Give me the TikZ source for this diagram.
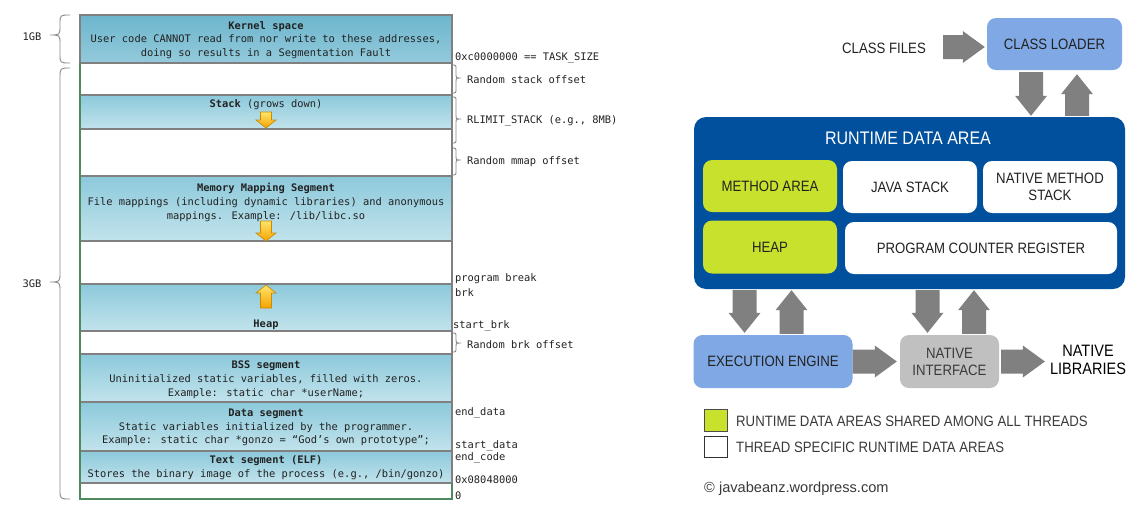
\documentclass[tikz,border=0pt]{standalone}
\usepackage{fontspec}
\newfontfamily\mono{DejaVu Sans Mono}
\newfontfamily\jf[FakeStretch=0.88]{Liberation Sans}
\newfontfamily\jfn{Liberation Sans}
\usetikzlibrary{calc}
\definecolor{segA}{HTML}{8CC9DB}
\definecolor{segB}{HTML}{C2E3EC}
\definecolor{kerA}{HTML}{6DB6CD}
\definecolor{kerB}{HTML}{93CADB}
\definecolor{segline}{HTML}{808080}
\definecolor{usrline}{HTML}{4F8A5E}
\definecolor{bracec}{HTML}{8A8A8A}
\definecolor{yA}{HTML}{FFE46A}
\definecolor{yB}{HTML}{F5A300}
\definecolor{yline}{HTML}{C88A00}
\definecolor{loader}{HTML}{7FA8E4}
\definecolor{rdablue}{HTML}{00509D}
\definecolor{shared}{HTML}{C8E12C}
\definecolor{nigray}{HTML}{C0C0C0}
\definecolor{agray}{HTML}{808080}
\definecolor{ink}{HTML}{222222}
\definecolor{legink}{HTML}{3A3A3A}
\tikzset{
  seg/.style={draw=segline, line width=1.2pt, inner sep=0, outer sep=0, minimum width=372, anchor=north west},
  wseg/.style={seg, fill=white},
  bseg/.style={seg, top color=segA, bottom color=segB},
  kseg/.style={seg, top color=kerA, bottom color=kerB},
  segtext/.style={font=\mono\fontsize{10.4}{13.8}\selectfont, text=ink, align=center, inner sep=0, yshift=-1.5pt},
  rlabel/.style={font=\mono\fontsize{10.4}{12}\selectfont, text=ink, anchor=west, inner sep=0, yshift=-1.5pt},
  bracestyle/.style={draw=bracec, line width=0.9pt},
  yarr/.style={top color=yA, bottom color=yB, draw=yline, line width=0.6pt},
  jbox/.style={rounded corners=9, inner sep=0, align=center, text=ink, font=\jf\fontsize{15}{17}\selectfont},
  jtext/.style={inner sep=0, align=center, text=ink, font=\jf\fontsize{15}{17}\selectfont},
  legtext/.style={inner sep=0, anchor=west, text=legink, font=\jf\fontsize{15}{17}\selectfont},
}
\newcommand\vbr[7]{\draw[bracestyle] (#1,#4) .. controls (#2,#4) .. (#2,{#4+#7}) -- (#2,{#5-#7}) .. controls (#2,#5) .. (#3,#5) .. controls (#2,#5) .. (#2,{#5+#7}) -- (#2,{#6-#7}) .. controls (#2,#6) .. (#1,#6);}
\newcommand\ydown[3]{\shadedraw[yarr] ({#1-5.5},#2) -- ({#1+5.5},#2) -- ({#1+5.5},{#3-8}) -- ({#1+10},{#3-8}) -- (#1,#3) -- ({#1-10},{#3-8}) -- ({#1-5.5},{#3-8}) -- cycle;}
\newcommand\yup[3]{\shadedraw[yarr] ({#1-5.5},#2) -- ({#1+5.5},#2) -- ({#1+5.5},{#3+8}) -- ({#1+10},{#3+8}) -- (#1,#3) -- ({#1-10},{#3+8}) -- ({#1-5.5},{#3+8}) -- cycle;}
\newcommand\arrR[2]{\fill[agray] let \p1=#1, \p2=#2 in (\x1,\y1+12pt) -- (\x2-22pt,\y1+12pt) -- (\x2-22pt,\y1+16pt) -- (\x2,\y1) -- (\x2-22pt,\y1-16pt) -- (\x2-22pt,\y1-12pt) -- (\x1,\y1-12pt) -- cycle;}
\newcommand\arrD[2]{\fill[agray] let \p1=#1, \p2=#2 in (\x1-12pt,\y1) -- (\x1+12pt,\y1) -- (\x1+12pt,\y2+20pt) -- (\x1+16pt,\y2+20pt) -- (\x1,\y2) -- (\x1-16pt,\y2+20pt) -- (\x1-12pt,\y2+20pt) -- cycle;}
\newcommand\arrU[2]{\fill[agray] let \p1=#1, \p2=#2 in (\x1-12pt,\y1) -- (\x1+12pt,\y1) -- (\x1+12pt,\y2-20pt) -- (\x1+16pt,\y2-20pt) -- (\x1,\y2) -- (\x1-16pt,\y2-20pt) -- (\x1-12pt,\y2-20pt) -- cycle;}
\begin{document}
\begin{tikzpicture}[x=1pt,y=-1pt]
\useasboundingbox (0,0) rectangle (1133,520);
\fill[white] (0,0) rectangle (1133,520);
% ---------------- left: memory layout ----------------
\node[kseg, minimum height=48] (kernel) at (80,15) {};
\node[wseg, minimum height=32] (gap1) at (80,63) {};
\node[bseg, minimum height=34] (stack) at (80,95) {};
\node[wseg, minimum height=47] (gap2) at (80,129) {};
\node[bseg, minimum height=65] (mmap) at (80,176) {};
\node[wseg, minimum height=43] (gap3) at (80,241) {};
\node[bseg, minimum height=47] (heapseg) at (80,284) {};
\node[wseg, minimum height=23] (gap4) at (80,331) {};
\node[bseg, minimum height=48] (bss) at (80,354) {};
\node[bseg, minimum height=49] (dataseg) at (80,402) {};
\node[bseg, minimum height=32] (textseg) at (80,451) {};
\node[wseg, minimum height=16] (gap5) at (80,483) {};
\draw[usrline, line width=1.2pt] (gap1.north west) -- (gap5.south west) -- (gap5.south east) -- (gap5.north east);

\node[segtext] (kt) at (266,38.5) {\textbf{Kernel space}\\User code CANNOT read from nor write to these addresses,\\doing so results in a Segmentation Fault};
\node[segtext] (st) at (266,103) {\textbf{Stack} (grows down)};
\node[segtext] (mt) at (266,201) {\textbf{Memory Mapping Segment}\\File mappings (including dynamic libraries) and anonymous\\mappings. Example: /lib/libc.so};
\node[segtext] (ht) at (266,323) {\textbf{Heap}};
\node[segtext] (bt) at (266,378) {\textbf{BSS segment}\\Uninitialized static variables, filled with zeros.\\Example: static char *userName;};
\node[segtext] (dt) at (266,426) {\textbf{Data segment}\\Static variables initialized by the programmer.\\Example: static char *gonzo = “God’s own prototype”;};
\node[segtext] (tt) at (266,466.5) {\textbf{Text segment (ELF)}\\Stores the binary image of the process (e.g., /bin/gonzo)};

\ydown{266}{112}{128}
\ydown{266}{221}{241}
\yup{266}{308}{285}

\vbr{70}{60}{50}{15}{35}{63}{9}
\vbr{70}{60}{50}{68}{282}{499}{10}
\node[segtext] (g1) at (32,35) {1GB};
\node[segtext] (g3) at (32,282) {3GB};

\vbr{452}{456}{461}{65}{78}{93}{4}
\vbr{452}{456}{461}{97}{119}{143}{4}
\vbr{452}{456}{461}{148}{160}{175}{4}
\vbr{452}{456}{461}{333}{343}{352}{4}

\node[rlabel] (l1) at (455,56) {0xc0000000 == TASK\_SIZE};
\node[rlabel] (l2) at (467,78) {Random stack offset};
\node[rlabel] (l3) at (467,119) {RLIMIT\_STACK (e.g., 8MB)};
\node[rlabel] (l4) at (467,160) {Random mmap offset};
\node[rlabel] (l5) at (455,277) {program break};
\node[rlabel] (l6) at (455,291) {brk};
\node[rlabel] (l7) at (453,324) {start\_brk};
\node[rlabel] (l8) at (467,343) {Random brk offset};
\node[rlabel] (l9) at (455,411) {end\_data};
\node[rlabel] (l10) at (455,444) {start\_data};
\node[rlabel] (l11) at (455,456) {end\_code};
\node[rlabel] (l12) at (455,478) {0x08048000};
\node[rlabel] (l13) at (455,494) {0};

% ---------------- right: JVM ----------------
\node[jbox, fill=loader, minimum width=135, minimum height=52] (cl) at (1054.5,44) {CLASS LOADER};
\node[jtext] (cf) at (884,48) {CLASS FILES};
\node[jbox, fill=rdablue, minimum width=431, minimum height=172, rounded corners=12] (rda) at (909.5,203) {};
\node[inner sep=0, text=white, font=\jf\fontsize{18.2}{20}\selectfont] (rdat) at (908,138) {RUNTIME DATA AREA};
\node[jbox, fill=shared, minimum width=134, minimum height=52] (ma) at (770,186) {METHOD AREA};
\node[jbox, fill=white, minimum width=134, minimum height=52] (js) at (910,187) {JAVA STACK};
\node[jbox, fill=white, minimum width=134, minimum height=52] (nms) at (1050,187) {NATIVE METHOD\\STACK};
\node[jbox, fill=shared, minimum width=134, minimum height=53] (hp) at (770,247) {HEAP};
\node[jbox, fill=white, minimum width=272, minimum height=52] (pcr) at (981,248) {PROGRAM COUNTER REGISTER};
\node[jbox, fill=loader, minimum width=159, minimum height=53] (ee) at (773,361.5) {EXECUTION ENGINE};
\node[jbox, fill=nigray, minimum width=99, minimum height=53, text=legink] (ni) at (949.5,361.5) {NATIVE\\INTERFACE};
\node[inner sep=0, align=center, text=black, font=\jf\fontsize{16.5}{17.5}\selectfont] (nl) at (1088,360) {NATIVE\\LIBRARIES};

\arrR{($(cf.east)+(17,-1)$)}{($(cl.west |- cf.east)+(-2,-1)$)}
\arrD{($(cl.south)+(-23.5,2)$)}{($(cl.south |- rda.north)+(-23.5,-1)$)}
\arrU{($(cl.south |- rda.north)+(22.5,-1)$)}{($(cl.south)+(22.5,4)$)}
\arrD{($(ee.north |- rda.south)+(-28.5,1)$)}{($(ee.north)+(-28.5,-2)$)}
\arrU{($(ee.north)+(18.5,-1)$)}{($(ee.north |- rda.south)+(18.5,1)$)}
\arrD{($(ni.north |- rda.south)+(-22,1)$)}{($(ni.north)+(-22,-2)$)}
\arrU{($(ni.north)+(24.5,-1)$)}{($(ni.north |- rda.south)+(24.5,1)$)}
\arrR{($(ee.east)+(0,0)$)}{($(ni.west)+(-3,0)$)}
\arrR{($(ni.east)+(2,0)$)}{($(nl.west |- ni.east)+(-5,0)$)}

\node[draw=black!70, fill=shared, minimum width=23, minimum height=22, inner sep=0, line width=1pt] (lg1) at (715.5,420) {};
\node[draw=black!80, fill=white, minimum width=23, minimum height=21, inner sep=0, line width=1pt] (lg2) at (715.5,446.5) {};
\node[legtext] (lt1) at (736,421) {RUNTIME DATA AREAS SHARED AMONG ALL THREADS};
\node[legtext] (lt2) at (736,447) {THREAD SPECIFIC RUNTIME DATA AREAS};
\node[inner sep=0, anchor=west, text=legink, font=\jfn\fontsize{14.6}{16}\selectfont] (copy) at (704,489) {© javabeanz.wordpress.com};
\end{tikzpicture}
\end{document}
